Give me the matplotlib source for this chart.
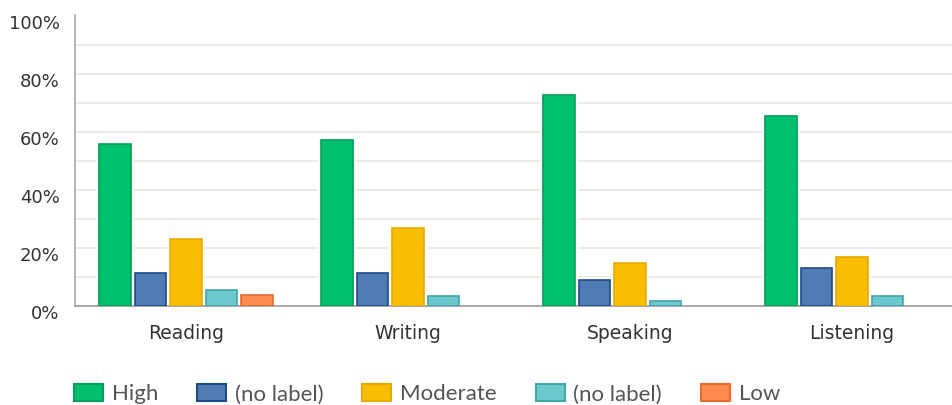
import matplotlib.pyplot as plt
import numpy as np
from matplotlib.patches import Patch
from matplotlib.transforms import ScaledTranslation

plt.rcParams['font.family'] = ['DejaVu Sans']

skills = ['Reading', 'Writing', 'Speaking', 'Listening']
series_names = ['High', '(no label)', 'Moderate', '(no label)', 'Low']
high = [56, 57.5, 73, 65.5]
no_label_1 = [11.5, 11.5, 9, 13]
moderate = [23, 27, 15, 17]
no_label_2 = [5.5, 3.5, 1.7, 3.5]
low = [3.8, 0, 0, 0]
y_ticks = [0, 20, 40, 60, 80, 100]

fills = ['#00bf6f', '#507cb6', '#f9be00', '#6bc8cd', '#ff8b4f']
edges = ['#00a05a', '#1f4a85', '#e8aa00', '#3fa7ad', '#e86a2c']

series = [high, no_label_1, moderate, no_label_2, low]

fig = plt.figure(figsize=(9.53, 4.05), dpi=100)
# the plot area runs a little past the right edge of the figure
ax = fig.add_axes([75 / 953, 99 / 405, 888 / 953, 291 / 405])

x = np.arange(len(skills))
step = 0.16
width = 0.143
for i, (vals, fc, ec) in enumerate(zip(series, fills, edges)):
    vals = np.array(vals, dtype=float)
    keep = vals > 0
    pos = x[keep] + (i - 2) * step
    # white halo so the grid stops short of each bar
    ax.bar(pos, vals[keep], width=width, color='white', edgecolor='white', linewidth=4, zorder=2)
    ax.bar(pos, vals[keep], width=width, color=fc, edgecolor=ec, linewidth=1.2, zorder=3)

for g in range(10, 100, 10):
    ax.axhline(g, color='#e6e6e6', linewidth=1.2, zorder=1)

ax.set_xlim(-0.5, 3.5)
ax.set_ylim(0, 100.5)
ax.set_yticks(y_ticks)
ax.set_yticklabels([f'{t}%' for t in y_ticks], fontsize=13, color='#333333')
ax.set_xticks(x)
ax.set_xticklabels(skills, fontsize=13.5, color='#333333')
ax.tick_params(axis='y', length=0, pad=11)
ax.tick_params(axis='x', length=0, pad=13)
for lab in ax.get_yticklabels():
    lab.set_transform(lab.get_transform() + ScaledTranslation(0, -4 / 72, fig.dpi_scale_trans))

for side in ['top', 'right']:
    ax.spines[side].set_visible(False)
ax.spines['left'].set_color('#aaaaaa')
ax.spines['bottom'].set_color('#999999')
ax.spines['left'].set_linewidth(1.2)
ax.spines['bottom'].set_linewidth(1.2)

handles = [Patch(facecolor=fc, edgecolor=ec, linewidth=1.5) for fc, ec in zip(fills, edges)]
leg = fig.legend(handles, series_names, loc='lower left', bbox_to_anchor=(54 / 953, -0.048),
                 ncol=5, frameon=False, prop={'family': 'Lato', 'size': 16},
                 handlelength=1.3, handleheight=0.8, handletextpad=0.4, columnspacing=1.75)
for t in leg.get_texts():
    t.set_color('#555555')

fig.savefig('out.png', dpi=100)
